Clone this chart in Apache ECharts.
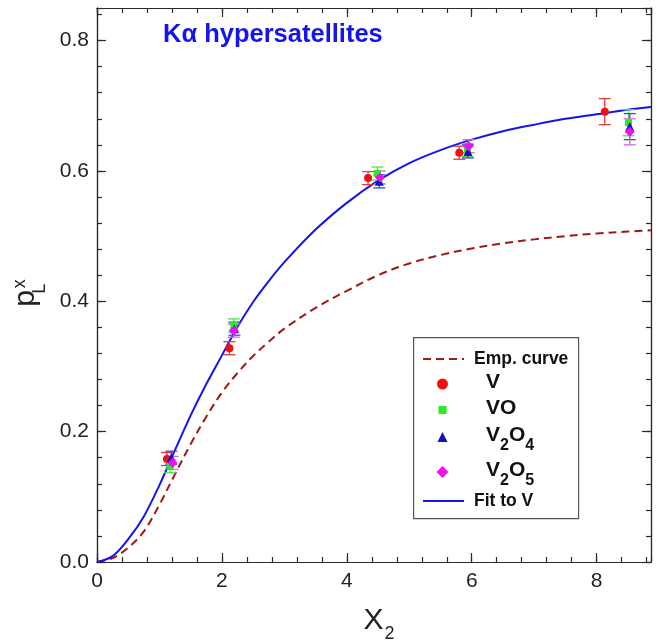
<!DOCTYPE html>
<html><head><meta charset="utf-8">
<script src="https://cdn.jsdelivr.net/npm/echarts@6/dist/echarts.min.js"></script>
<style>html,body{margin:0;padding:0;background:#fff}#c{width:661px;height:643px}</style>
</head><body><div id="c"></div>
<script>
// ---- data ----
const vX   = [1.12, 2.12, 4.34, 5.80, 8.13];
const vY   = [0.158, 0.328, 0.589, 0.628, 0.691];
const vErr = [0.010, 0.010, 0.010, 0.010, 0.020];

const voX   = [1.17, 2.19, 4.49, 5.93, 8.51];
const voY   = [0.147, 0.363, 0.596, 0.632, 0.674];
const voErr = [0.010, 0.010, 0.010, 0.010, 0.020];

const v2o4X   = [1.19, 2.20, 4.52, 5.94, 8.53];
const v2o4Y   = [0.160, 0.358, 0.584, 0.630, 0.668];
const v2o4Err = [0.010, 0.010, 0.010, 0.010, 0.020];

const v2o5X   = [1.21, 2.19, 4.53, 5.95, 8.53];
const v2o5Y   = [0.152, 0.355, 0.590, 0.638, 0.660];
const v2o5Err = [0.010, 0.010, 0.010, 0.010, 0.020];

const fitX = [0, 0.25, 0.5, 0.75, 1.0, 1.25, 1.5, 1.75, 2.0, 2.25, 2.5, 2.75, 3.0, 3.5, 4.0, 4.5, 5.0, 5.5, 6.0, 6.5, 7.0, 7.5, 8.0, 8.5, 8.87];
const fitY = [0, 0.009, 0.035, 0.070, 0.118, 0.172, 0.225, 0.273, 0.317, 0.361, 0.399, 0.431, 0.460, 0.510, 0.551, 0.585, 0.612, 0.632, 0.648, 0.661, 0.671, 0.680, 0.687, 0.694, 0.698];

const empX = [0, 0.25, 0.5, 0.75, 1.0, 1.25, 1.5, 1.75, 2.0, 2.25, 2.5, 2.75, 3.0, 3.5, 4.0, 4.5, 5.0, 5.5, 6.0, 6.5, 7.0, 7.5, 8.0, 8.5, 8.87];
const empY = [0, 0.006, 0.022, 0.047, 0.088, 0.135, 0.181, 0.223, 0.260, 0.290, 0.316, 0.338, 0.358, 0.390, 0.416, 0.440, 0.458, 0.471, 0.481, 0.489, 0.495, 0.500, 0.504, 0.507, 0.509];

const xTicks = [0, 2, 4, 6, 8];
const yTicks = [0.0, 0.2, 0.4, 0.6, 0.8];
const X_MAX = 8.87, Y_MAX = 0.85;

// ---- helpers ----
const FONT = 'Liberation Sans, Arial, sans-serif';
const pairs = (xs, ys) => xs.map((x, i) => [x, ys[i]]);
const triples = (xs, ys, es) => xs.map((x, i) => [x, ys[i], es[i]]);

function errRender(color) {
  return function (params, api) {
    const x = api.value(0), y = api.value(1), e = api.value(2);
    const t = api.coord([x, y + e]), b = api.coord([x, y - e]);
    const hw = 6;
    const st = { stroke: color, lineWidth: 1.3 };
    return { type: 'group', children: [
      { type: 'line', shape: { x1: t[0], y1: t[1], x2: b[0], y2: b[1] }, style: st },
      { type: 'line', shape: { x1: t[0] - hw, y1: t[1], x2: t[0] + hw, y2: t[1] }, style: st },
      { type: 'line', shape: { x1: b[0] - hw, y1: b[1], x2: b[0] + hw, y2: b[1] }, style: st }
    ]};
  };
}

const AX = '#2a2a2a';
function xAx(pos, interval, tickLen, labels) {
  return {
    type: 'value', position: pos, min: 0, max: X_MAX, interval: interval,
    axisLine: { show: true, onZero: false, lineStyle: { color: AX, width: 1.2 } },
    axisTick: { show: true, inside: true, length: tickLen, lineStyle: { color: AX, width: 1.2 } },
    axisLabel: labels ? {
      show: true, fontSize: 21, color: '#222', fontFamily: FONT, margin: 9, showMaxLabel: false,
      formatter: v => xTicks.includes(v) ? String(v) : ''
    } : { show: false },
    splitLine: { show: false }
  };
}
function yAx(pos, interval, tickLen, labels) {
  return {
    type: 'value', position: pos, min: 0, max: Y_MAX, interval: interval,
    axisLine: { show: true, onZero: false, lineStyle: { color: AX, width: 1.2 } },
    axisTick: { show: true, inside: true, length: tickLen, lineStyle: { color: AX, width: 1.2 } },
    axisLabel: labels ? {
      show: true, fontSize: 21, color: '#222', fontFamily: FONT, margin: 8, showMaxLabel: false,
      formatter: v => yTicks.some(t => Math.abs(t - v) < 1e-9) ? v.toFixed(1) : ''
    } : { show: false },
    splitLine: { show: false }
  };
}

const xMain = xAx('bottom', 2, 9, true);
xMain.name = '{a|X}{s|2}';
xMain.nameLocation = 'middle';
xMain.nameGap = 44;
xMain.nameTextStyle = { padding: [0, 0, 0, 10], rich: {
  a: { fontSize: 30, fontFamily: FONT, color: '#222', lineHeight: 32, verticalAlign: 'top' },
  s: { fontSize: 18, fontFamily: FONT, color: '#222', lineHeight: 18, padding: [19, 0, 0, 1], verticalAlign: 'top' }
}};
const yMain = yAx('left', 0.2, 9, true);
yMain.name = '{p|p}{s|L}{u|x}';
yMain.nameLocation = 'middle';
yMain.nameGap = 52;
yMain.nameTextStyle = { padding: [0, 16, 0, 0], rich: {
  p: { fontSize: 30, fontFamily: FONT, color: '#222', lineHeight: 34, verticalAlign: 'top' },
  s: { fontSize: 18, fontFamily: FONT, color: '#222', lineHeight: 18, padding: [20, 0, 0, 1], verticalAlign: 'top', width: 1 },
  u: { fontSize: 18, fontFamily: FONT, color: '#222', lineHeight: 12, padding: [0, 0, 0, 0], verticalAlign: 'top' }
}};

const COLORS = {
  V: ['#ee1111', '#e03a3a'], VO: ['#22ee22', '#55dd55'],
  V2O4: ['#1111cc', '#4444dd'], V2O5: ['#ee11ee', '#d466dd']
};

const series = [
  { name: 'Emp. curve', type: 'line', data: pairs(empX, empY), smooth: 0.35, symbol: 'none',
    lineStyle: { color: '#a01818', width: 2, type: [8, 5] }, itemStyle: { color: '#a01818' }, z: 2 },
  { name: 'Fit to V', type: 'line', data: pairs(fitX, fitY), smooth: 0.35, symbol: 'none',
    lineStyle: { color: '#1414ee', width: 2 }, itemStyle: { color: '#1414ee' }, z: 2 },
  { name: 'V err', type: 'custom', data: triples(vX, vY, vErr), renderItem: errRender(COLORS.V[1]), encode: { x: 0, y: 1 }, z: 3 },
  { name: 'VO err', type: 'custom', data: triples(voX, voY, voErr), renderItem: errRender(COLORS.VO[1]), encode: { x: 0, y: 1 }, z: 3 },
  { name: 'V2O4 err', type: 'custom', data: triples(v2o4X, v2o4Y, v2o4Err), renderItem: errRender(COLORS.V2O4[1]), encode: { x: 0, y: 1 }, z: 3 },
  { name: 'V2O5 err', type: 'custom', data: triples(v2o5X, v2o5Y, v2o5Err), renderItem: errRender(COLORS.V2O5[1]), encode: { x: 0, y: 1 }, z: 3 },
  { name: 'V', type: 'scatter', data: pairs(vX, vY), symbol: 'circle', symbolSize: 8, itemStyle: { color: COLORS.V[0], opacity: 1 }, z: 5 },
  { name: 'VO', type: 'scatter', data: pairs(voX, voY), symbol: 'rect', symbolSize: 7, itemStyle: { color: COLORS.VO[0], opacity: 1 }, z: 5 },
  { name: 'V2O4', type: 'scatter', data: pairs(v2o4X, v2o4Y), symbol: 'triangle', symbolSize: 9, itemStyle: { color: COLORS.V2O4[0], opacity: 1 }, z: 5 },
  { name: 'V2O5', type: 'scatter', data: pairs(v2o5X, v2o5Y), symbol: 'diamond', symbolSize: 10, itemStyle: { color: COLORS.V2O5[0], opacity: 1 }, z: 5 }
];

const richLeg = {
  b: { fontSize: 21, fontWeight: 'bold', fontFamily: FONT, color: '#111', lineHeight: 24, verticalAlign: 'top' },
  s: { fontSize: 16, fontWeight: 'bold', fontFamily: FONT, color: '#111', lineHeight: 16, padding: [13, 0, 0, 0], verticalAlign: 'top' }
};
const legFmt = { 'V': '{b|V}', 'VO': '{b|VO}', 'V2O4': '{b|V}{s|2}{b|O}{s|4}', 'V2O5': '{b|V}{s|2}{b|O}{s|5}' };

function lineLeg(name, top) {
  return { data: [name], left: 422, top: top, padding: 0, itemWidth: 41, itemHeight: 14, selectedMode: false,
    itemStyle: { opacity: 0 },
    formatter: n => '{g|}{t|' + n + '}',
    textStyle: { rich: { g: { width: 5, height: 1 },
      t: { fontSize: 17.5, fontWeight: 'bold', fontFamily: FONT, color: '#111', lineHeight: 14 } } } };
}
function symLeg(name, top, h) {
  const left = 442.5 - h / 2;
  const gap = 486 - (left + h + 5);
  return { data: [name], left: left, top: top, padding: 0, itemWidth: h, itemHeight: h, selectedMode: false,
    formatter: n => '{g|}' + legFmt[n],
    textStyle: { fontFamily: FONT, rich: Object.assign({}, richLeg, { g: { width: gap, height: 1 } }) } };
}

const chart = echarts.init(document.getElementById('c'), null, { renderer: 'canvas' });
chart.setOption({
  animation: false,
  backgroundColor: '#fff',
  title: { text: 'K\u03b1 hypersatellites', left: 163, top: 22, padding: 0,
    textStyle: { color: '#1414ee', fontSize: 25.5, fontWeight: 'bold', fontFamily: FONT } },
  grid: { left: 97, right: 10, top: 8, bottom: 81, containLabel: false, outerBoundsMode: 'none' },
  xAxis: [xMain, xAx('bottom', 0.4, 5, false), xAx('top', 2, 9, false), xAx('top', 0.4, 5, false)],
  yAxis: [yMain, yAx('left', 0.04, 5, false), yAx('right', 0.2, 9, false), yAx('right', 0.04, 5, false)],
  legend: [
    lineLeg('Emp. curve', 350),
    symLeg('V', 372, 11),
    symLeg('VO', 398, 8),
    symLeg('V2O4', 425, 10),
    symLeg('V2O5', 460, 12),
    lineLeg('Fit to V', 492)
  ],
  graphic: [{ type: 'rect', left: 413, top: 337, shape: { width: 165, height: 181 },
    style: { fill: '#fff', stroke: '#555', lineWidth: 1.2 }, z: 1, silent: true }],
  series: series
});
</script></body></html>
